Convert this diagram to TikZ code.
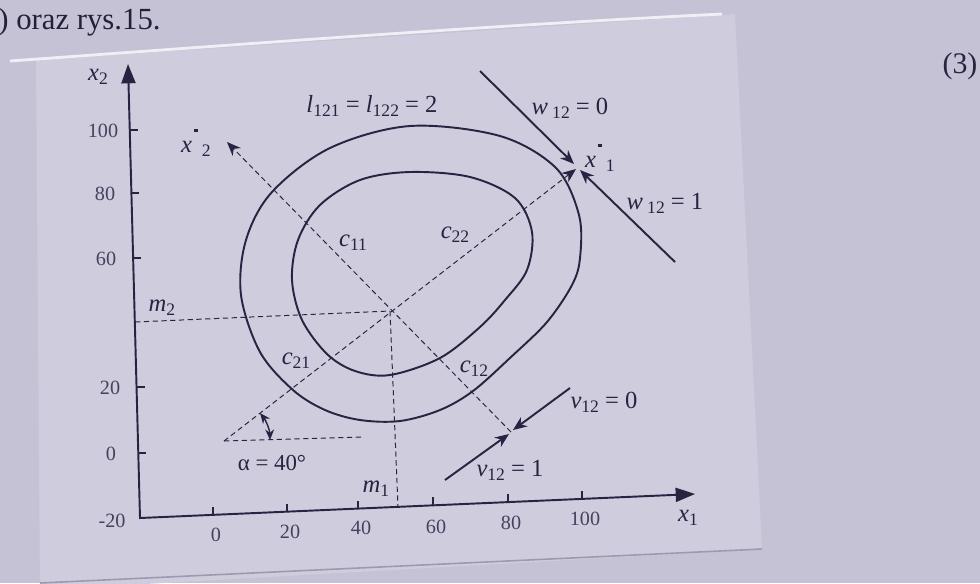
\documentclass[tikz,border=0pt]{standalone}
\usepackage{fontspec}
\setmainfont{Liberation Serif}
\usetikzlibrary{arrows.meta}
\definecolor{bgc}{RGB}{197,194,213}
\definecolor{paperc}{RGB}{207,204,222}
\definecolor{ink}{RGB}{38,36,64}
\definecolor{tickc}{RGB}{68,66,92}
\newcommand\sbs[1]{\raisebox{-0.35ex}{\fontsize{10}{11}\selectfont #1}}
\newcommand\sdot{\raisebox{12pt}{\rule{2.6pt}{1.3pt}}}
\begin{document}
\begin{tikzpicture}[x=0.02cm,y=-0.02cm,
  lbl/.style={text=ink,font=\fontsize{14}{16}\selectfont,inner sep=0pt},
  ticklbl/.style={text=tickc,font=\fontsize{11.5}{13}\selectfont,inner sep=0pt},
  axis/.style={draw=ink,line width=1.1pt},
  curve/.style={draw=ink,line width=1.1pt},
  solidline/.style={draw=ink,line width=1.1pt},
  dline/.style={draw=ink,line width=0.55pt,dash pattern=on 3pt off 2pt},
  tip/.style={-{Stealth[length=8pt,width=6.5pt]}},
  tickmark/.style={draw=ink,line width=0.9pt}]
\useasboundingbox (0,0) rectangle (980,583);
% background
\fill[bgc] (0,0) rectangle (980,583);
\fill[paperc] (36,60) -- (735,14) -- (762,549) -- (40,590) -- cycle;
\draw[white,line width=1.6pt,opacity=0.75] (10,61) .. controls (300,40) and (500,25) .. (722,14);
\draw[ink!30!paperc,line width=0.9pt] (40,583) -- (762,549);
% page text
\node[text=ink!90!black,font=\fontsize{17.5}{19}\selectfont,anchor=west,inner sep=0pt] (hdr) at (-2,22) {) oraz rys.15.};
\node[text=ink,font=\fontsize{17}{19}\selectfont,inner sep=0pt] (eqn) at (960,66) {(3)};
% axes
\coordinate (O) at (140,518);
\coordinate (Ytip) at (128,64);
\coordinate (Xtip) at (695,494);
\draw[axis,{Triangle[length=11pt,width=8pt]}-{Triangle[length=11pt,width=8pt]}] (Ytip) -- (O) -- (Xtip);
% y ticks
\foreach \yy/\xx/\lab/\lx in {130/129.7/100/103, 193/131.4/80/105, 258/133.1/60/106, 387/136.5/20/110, 453/138.3/0/111}{
  \draw[tickmark] (\xx,\yy) -- ++(8,0);
  \node[ticklbl] at (\lx,\yy+1) {\lab};
}
\node[ticklbl] (ym20) at (112,521) {-20};
% x ticks
\foreach \xx/\yy/\lab/\ly in {213/514.8/0/535, 287/511.6/20/532, 358/508.5/40/528, 433/505.3/60/527, 508/502.0/80/523, 582/498.8/100/519}{
  \draw[tickmark] (\xx,\yy) -- ++(0,-8);
  \node[ticklbl] at (\xx+3,\ly) {\lab};
}
\node[lbl] (x1lab) at (688,518) {\textit{x}\sbs{1}};
\node[lbl] (x2lab) at (98,77) {\textit{x}\sbs{2}};
% closed curves
\draw[curve] plot[smooth cycle,tension=0.55] coordinates {(410,126) (500,136) (556,168) (579,215) (580,258) (572,285) (547,322) (511,357) (473,391) (440,410) (400,421) (360,420) (325,410) (293,390) (260,352) (241,295) (246,240) (272,192) (330,148)};
\draw[curve] plot[smooth cycle,tension=0.55] coordinates {(410,172) (470,177) (515,198) (532,232) (527,270) (505,300) (480,327) (440,358) (390,375) (355,371) (327,354) (302,320) (292,280) (298,240) (320,205) (360,180)};
% key points
\coordinate (C) at (390,311);
\coordinate (A) at (224,441);
\coordinate (P1) at (576,169);
\coordinate (P2) at (227,142);
\coordinate (Q) at (511,432);
\coordinate (M2) at (135,322);
\coordinate (M1) at (398,507);
\coordinate (AH) at (364,437);
% dashed lines
\draw[dline,tip] (A) -- (P1);
\draw[dline,tip] (Q) -- (P2);
\draw[dline] (M2) -- (C);
\draw[dline] (C) -- (M1);
\draw[dline] (A) -- (AH);
% w line
\coordinate (W0) at (480,71);
\coordinate (W1) at (675,262);
\coordinate (Wt0) at (574,164);
\coordinate (Wt1) at (580,170);
\draw[solidline,tip] (W0) -- (Wt0);
\draw[solidline,tip] (W1) -- (Wt1);
% v line
\coordinate (V1) at (445,480);
\coordinate (V0) at (570,388);
\coordinate (Vt1) at (509,434);
\coordinate (Vt0) at (513,430);
\draw[solidline,tip] (V1) -- (Vt1);
\draw[solidline,tip] (V0) -- (Vt0);
% alpha arc
\coordinate (a1) at (260,413);
\coordinate (a2) at (270,440);
\draw[draw=ink,line width=0.8pt,{Stealth[length=6pt,width=5pt]}-{Stealth[length=6pt,width=5pt]}] (a1) .. controls (266,420.6) and (269.7,429.7) .. (a2);
% labels
\node[lbl] (lab-l) at (372,106) {\textit{l}\sbs{121} = \textit{l}\sbs{122} = 2};
\node[lbl] (lab-w0) at (570,108) {\textit{w}\,\sbs{12} = 0};
\node[lbl] (lab-w1) at (665,203) {\textit{w}\,\sbs{12} = 1};
\node[lbl] (lab-v0) at (604,402) {\textit{v}\sbs{12} = 0};
\node[lbl] (lab-v1) at (510,470) {\textit{v}\sbs{12} = 1};
\node[lbl] (lab-c11) at (353,243) {\textit{c}\sbs{11}};
\node[lbl] (lab-c22) at (455,235) {\textit{c}\sbs{22}};
\node[lbl] (lab-c21) at (296,361) {\textit{c}\sbs{21}};
\node[lbl] (lab-c12) at (474,369) {\textit{c}\sbs{12}};
\node[lbl] (lab-m2) at (162,308) {\textit{m}\sbs{2}};
\node[lbl] (lab-m1) at (376,489) {\textit{m}\sbs{1}};
\node[lbl,font=\fontsize{13}{15}\selectfont] (lab-a) at (272,463) {α = 40°};
\node[lbl] (lab-x1s) at (600,158) {\textit{x}\hspace{1pt}\sdot\hspace{2pt}\sbs{1}};
\node[lbl] (lab-x2s) at (196,143) {\textit{x}\hspace{1pt}\sdot\hspace{2pt}\sbs{2}};
\end{tikzpicture}
\end{document}
